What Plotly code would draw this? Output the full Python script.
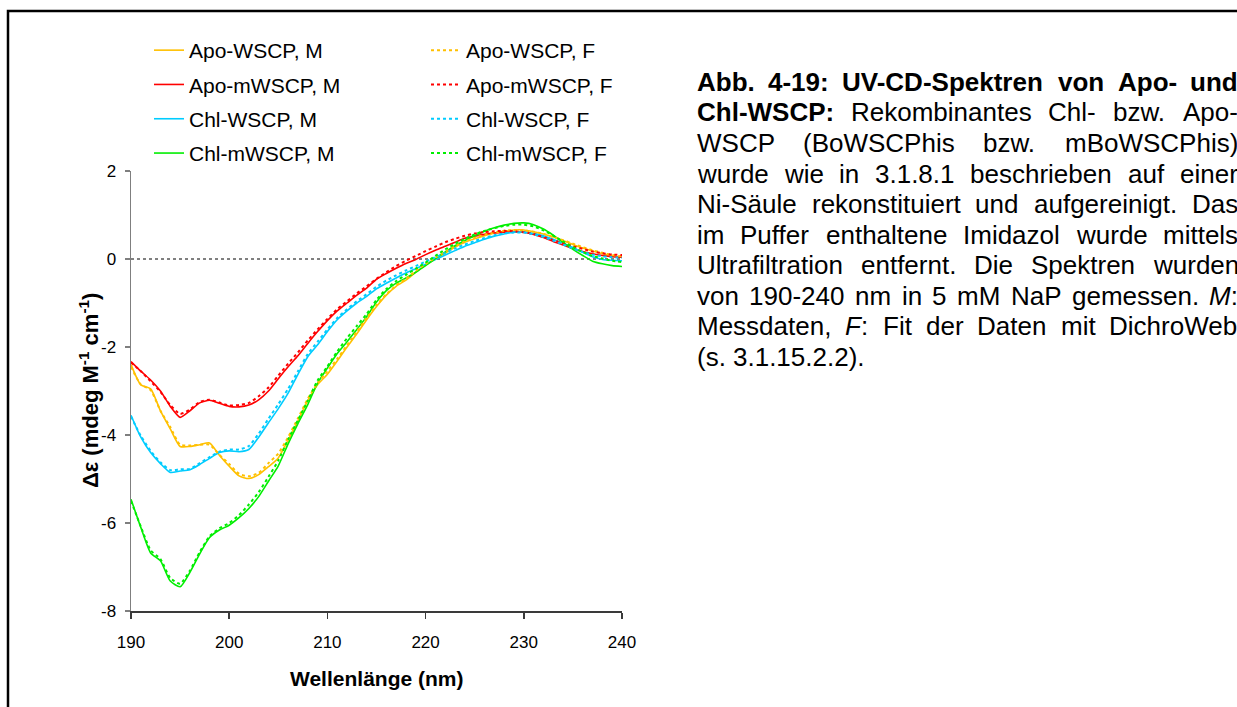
import plotly.graph_objects as go

# ---------------- data ----------------
wavelength = list(range(190, 241))

apo_wscp_m = [-2.40, -2.86, -2.95, -3.45, -3.86, -4.26, -4.26, -4.22, -4.18, -4.46,
              -4.71, -4.93, -4.99, -4.90, -4.72, -4.52, -4.12, -3.68, -3.22, -2.86,
              -2.62, -2.32, -2.00, -1.70, -1.38, -1.08, -0.82, -0.62, -0.48, -0.30,
              -0.14, 0.00, 0.13, 0.27, 0.38, 0.46, 0.53, 0.59, 0.63, 0.66,
              0.66, 0.62, 0.57, 0.50, 0.42, 0.33, 0.25, 0.18, 0.12, 0.07, 0.04]
apo_wscp_f = [-2.45, -2.85, -2.98, -3.45, -3.82, -4.22, -4.24, -4.22, -4.22, -4.45,
              -4.66, -4.88, -4.94, -4.86, -4.64, -4.42, -4.05, -3.62, -3.18, -2.82,
              -2.55, -2.27, -1.96, -1.65, -1.34, -1.05, -0.80, -0.60, -0.45, -0.27,
              -0.11, 0.03, 0.16, 0.29, 0.40, 0.48, 0.55, 0.60, 0.64, 0.66,
              0.65, 0.62, 0.57, 0.50, 0.43, 0.35, 0.27, 0.20, 0.14, 0.09, 0.06]
apo_mwscp_m = [-2.33, -2.55, -2.75, -3.00, -3.35, -3.60, -3.45, -3.27, -3.21, -3.28,
               -3.35, -3.36, -3.32, -3.20, -3.00, -2.72, -2.45, -2.20, -1.92, -1.65,
               -1.40, -1.18, -1.00, -0.82, -0.66, -0.46, -0.33, -0.21, -0.10, -0.01,
               0.10, 0.20, 0.29, 0.38, 0.47, 0.52, 0.56, 0.59, 0.61, 0.62,
               0.61, 0.56, 0.49, 0.40, 0.32, 0.24, 0.17, 0.12, 0.08, 0.05, 0.04]
apo_mwscp_f = [-2.35, -2.55, -2.78, -3.02, -3.32, -3.52, -3.42, -3.25, -3.20, -3.26,
               -3.33, -3.32, -3.27, -3.12, -2.92, -2.65, -2.38, -2.12, -1.85, -1.60,
               -1.36, -1.14, -0.96, -0.78, -0.62, -0.45, -0.30, -0.16, -0.04, 0.07,
               0.18, 0.28, 0.38, 0.46, 0.53, 0.58, 0.61, 0.63, 0.64, 0.63,
               0.61, 0.57, 0.50, 0.43, 0.36, 0.29, 0.23, 0.17, 0.13, 0.10, 0.09]
chl_wscp_m = [-3.55, -4.05, -4.40, -4.65, -4.85, -4.82, -4.79, -4.67, -4.53, -4.40,
              -4.36, -4.38, -4.33, -4.05, -3.72, -3.40, -3.05, -2.62, -2.22, -1.95,
              -1.65, -1.38, -1.18, -1.00, -0.85, -0.68, -0.55, -0.43, -0.32, -0.22,
              -0.12, -0.01, 0.09, 0.19, 0.29, 0.37, 0.45, 0.52, 0.57, 0.61,
              0.61, 0.58, 0.53, 0.45, 0.36, 0.26, 0.15, 0.05, -0.01, -0.03, -0.04]
chl_wscp_f = [-3.58, -4.02, -4.36, -4.62, -4.80, -4.78, -4.77, -4.64, -4.50, -4.38,
              -4.33, -4.33, -4.25, -3.97, -3.63, -3.30, -2.95, -2.55, -2.16, -1.88,
              -1.60, -1.34, -1.14, -0.96, -0.80, -0.63, -0.49, -0.37, -0.26, -0.16,
              -0.06, 0.04, 0.14, 0.24, 0.33, 0.41, 0.48, 0.54, 0.58, 0.60,
              0.60, 0.56, 0.50, 0.42, 0.33, 0.24, 0.16, 0.10, 0.06, 0.04, 0.03]
chl_mwscp_m = [-5.46, -6.10, -6.68, -6.86, -7.32, -7.45, -7.12, -6.70, -6.33, -6.16,
               -6.05, -5.88, -5.67, -5.40, -5.05, -4.70, -4.20, -3.74, -3.31, -2.82,
               -2.48, -2.15, -1.88, -1.60, -1.31, -0.98, -0.72, -0.55, -0.43, -0.30,
               -0.15, 0.01, 0.16, 0.30, 0.42, 0.53, 0.63, 0.71, 0.77, 0.81,
               0.82, 0.78, 0.68, 0.54, 0.38, 0.22, 0.08, -0.05, -0.11, -0.15, -0.17]
chl_mwscp_f = [-5.50, -6.08, -6.62, -6.82, -7.25, -7.38, -7.08, -6.66, -6.30, -6.12,
               -6.00, -5.82, -5.58, -5.30, -4.95, -4.58, -4.10, -3.66, -3.22, -2.76,
               -2.44, -2.10, -1.80, -1.52, -1.25, -0.93, -0.68, -0.50, -0.36, -0.22,
               -0.08, 0.07, 0.22, 0.35, 0.46, 0.56, 0.64, 0.70, 0.75, 0.78,
               0.78, 0.74, 0.65, 0.53, 0.40, 0.27, 0.16, 0.07, 0.01, -0.04, -0.07]

series_names = ["Apo-WSCP", "Apo-mWSCP", "Chl-WSCP", "Chl-mWSCP"]
series_colors = ["#FFC000", "#FF0000", "#00CCFF", "#00EE00"]
measured = [apo_wscp_m, apo_mwscp_m, chl_wscp_m, chl_mwscp_m]
fitted = [apo_wscp_f, apo_mwscp_f, chl_wscp_f, chl_mwscp_f]

y_tickvals = [-8, -6, -4, -2, 0, 2]
y_ticktext = ["-8", "-6", "-4", "-2", "0", "2"]
x_tickvals = [190, 200, 210, 220, 230, 240]
x_ticktext = ["190", "200", "210", "220", "230", "240"]

caption_lines = [
    "**Abb.** **4-19:** **UV-CD-Spektren** **von** **Apo-** **und**",
    "**Chl-WSCP:** Rekombinantes Chl- bzw. Apo-",
    "WSCP (BoWSCPhis bzw. mBoWSCPhis)",
    "wurde wie in 3.1.8.1 beschrieben auf einer",
    "Ni-Säule rekonstituiert und aufgereinigt. Das",
    "im Puffer enthaltene Imidazol wurde mittels",
    "Ultrafiltration entfernt. Die Spektren wurden",
    "von 190-240 nm in 5 mM NaP gemessen. *M*:",
    "Messdaten, *F*: Fit der Daten mit DichroWeb",
    "(s. 3.1.15.2.2).",
]

# ---------------- layout geometry ----------------
W, H = 1237, 707
ML, MR, MT, MB = 131, 615, 171, 96
PW = W - ML - MR
PH = H - MT - MB
FONT = "Arial, Liberation Sans, sans-serif"


def px_x(px):
    return (px - ML) / PW


def px_y(py):
    return (H - MB - py) / PH


# Arial metrics (1/1000 em) for the justified caption
REG = {" ": 278, "(": 333, ")": 333, ",": 278, "-": 333, ".": 278, ":": 278}
BOLD = {" ": 278, "(": 333, ")": 333, ",": 278, "-": 333, ".": 278, ":": 333}
for d in "0123456789":
    REG[d] = 556
    BOLD[d] = 556
REG.update(dict(A=667, B=667, C=722, D=722, E=667, F=611, G=778, H=722, I=278, J=500, K=667,
                L=556, M=833, N=722, O=778, P=667, Q=778, R=722, S=667, T=611, U=722, V=667,
                W=944, X=667, Y=667, Z=611))
REG.update(dict(a=556, b=556, c=500, d=556, e=556, f=278, g=556, h=556, i=222, j=222, k=500,
                l=222, m=833, n=556, o=556, p=556, q=556, r=333, s=500, t=278, u=556, v=500,
                w=722, x=500, y=500, z=500))
REG.update({"ä": 556, "ö": 556, "ü": 556})
BOLD.update(dict(A=722, B=722, C=722, D=722, E=667, F=611, G=778, H=722, I=278, K=722, L=611,
                 M=833, N=722, O=778, P=667, R=722, S=667, T=611, U=722, V=667, W=944))
BOLD.update(dict(a=556, b=611, c=556, d=611, e=556, f=333, g=611, h=611, i=278, k=556, l=278,
                 m=889, n=611, o=611, p=611, r=389, s=556, t=333, u=611, v=556, w=778))


def word_info(tok):
    """returns (html, width_in_em)"""
    html, width = "", 0.0
    i = 0
    while i < len(tok):
        if tok.startswith("**", i):
            j = tok.index("**", i + 2)
            seg = tok[i + 2:j]
            html += "<b>" + seg + "</b>"
            width += sum(BOLD.get(c, 556) for c in seg)
            i = j + 2
        elif tok[i] == "*":
            j = tok.index("*", i + 1)
            seg = tok[i + 1:j]
            html += "<i>" + seg + "</i>"
            width += sum(REG.get(c, 556) for c in seg)
            i = j + 1
        else:
            html += tok[i]
            width += REG.get(tok[i], 556)
            i += 1
    return html, width / 1000.0


fig = go.Figure()

for name, color, m in zip(series_names, series_colors, measured):
    fig.add_trace(go.Scatter(
        x=wavelength, y=m, mode="lines", name=f"{name}, M", legend="legend",
        legendgroup=f"{name}M", hoverinfo="skip",
        line=dict(color=color, width=1.6, shape="spline", smoothing=0.6)))
for name, color, f in zip(series_names, series_colors, fitted):
    fig.add_trace(go.Scatter(
        x=wavelength, y=f, mode="lines", name=f"{name}, F", legend="legend2",
        legendgroup=f"{name}F", hoverinfo="skip",
        line=dict(color=color, width=2, dash="dot", shape="spline", smoothing=0.6)))

shapes = [
    # dotted zero line
    dict(type="line", xref="paper", yref="y", x0=0, x1=1, y0=0, y1=0,
         line=dict(color="black", width=1, dash="dot"), layer="below"),
    # outer frame (continues beyond the picture to the right / bottom)
    dict(type="rect", xref="paper", yref="paper",
         x0=px_x(8), x1=px_x(1260), y0=px_y(11), y1=px_y(730),
         line=dict(color="black", width=2.5)),
]

annotations = [
    dict(text="<b>Wellenlänge (nm)</b>", xref="paper", yref="paper", x=0.5, y=px_y(678),
         showarrow=False, font=dict(family=FONT, size=21, color="black"),
         xanchor="center", yanchor="middle"),
    dict(text="<b>Δε (mdeg M<sup>-1</sup> cm<sup>-1</sup>)</b>", xref="paper", yref="paper",
         x=px_x(89), y=0.5, textangle=-90, showarrow=False,
         font=dict(family=FONT, size=22, color="black"), xanchor="center", yanchor="middle"),
]

# justified caption, one annotation per word
CAP_SIZE = 26
CAP_L, CAP_R = 697, 1238
CAP_Y0, CAP_DY = 82, 30.5
for li, line in enumerate(caption_lines):
    words = [word_info(t) for t in line.split(" ")]
    widths = [w * CAP_SIZE for _, w in words]
    y = CAP_Y0 + li * CAP_DY
    if li == len(caption_lines) - 1 or len(words) == 1:
        gap = REG[" "] / 1000 * CAP_SIZE
    else:
        gap = (CAP_R - CAP_L - sum(widths)) / (len(words) - 1)
    x = CAP_L
    for (html, _), wpx in zip(words, widths):
        annotations.append(dict(
            text=html, xref="paper", yref="paper", x=px_x(x - 2), y=px_y(y),
            xanchor="left", yanchor="middle", showarrow=False,
            font=dict(family=FONT, size=CAP_SIZE, color="black")))
        x += wpx + gap

legend_common = dict(
    xanchor="left", yanchor="top", bgcolor="rgba(0,0,0,0)", borderwidth=0,
    font=dict(family=FONT, size=21, color="black"), tracegroupgap=4,
    itemclick=False, itemdoubleclick=False,
)

fig.update_layout(
    width=W, height=H,
    margin=dict(l=ML, r=MR, t=MT, b=MB, pad=0),
    paper_bgcolor="white", plot_bgcolor="white",
    font=dict(family=FONT, color="black"),
    showlegend=True, hovermode=False,
    legend=dict(x=px_x(149), y=px_y(30), **legend_common),
    legend2=dict(x=px_x(426), y=px_y(30), **legend_common),
    xaxis=dict(range=[190, 240], tickvals=x_tickvals, ticktext=x_ticktext,
               showgrid=False, zeroline=False, showline=True, linecolor="#3a3a3a",
               linewidth=1.5, ticks="outside", ticklen=6, tickcolor="#3a3a3a",
               tickwidth=1.5, ticklabelstandoff=9,
               tickfont=dict(family=FONT, size=17, color="black")),
    yaxis=dict(range=[-8, 2], tickvals=y_tickvals, ticktext=y_ticktext,
               showgrid=False, zeroline=False, showline=True, linecolor="#7f7f7f",
               linewidth=1.5, ticks="outside", ticklen=5, tickcolor="#7f7f7f",
               tickwidth=1.5, ticklabelstandoff=5,
               tickfont=dict(family=FONT, size=17, color="black")),
    shapes=shapes,
    annotations=annotations,
)

fig.write_html("out.html", config={"displayModeBar": False, "staticPlot": True},
               post_script="document.body.style.margin='0';document.body.style.overflow='hidden';")
